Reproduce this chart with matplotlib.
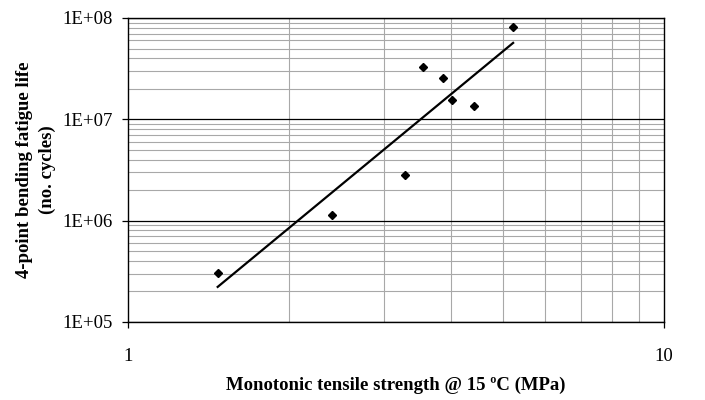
import numpy as np
import matplotlib
matplotlib.use("Agg")
import matplotlib.pyplot as plt
from matplotlib.ticker import FixedLocator, NullFormatter

### data ###
strength = [1.47, 2.40, 3.29, 3.55, 3.87, 4.02, 4.42, 5.23]           # MPa
fatigue_life = [3.04e5, 1.15e6, 2.84e6, 3.26e7, 2.56e7, 1.54e7, 1.35e7, 8.09e7]
x_ticks = [1, 10]
y_ticks = [1e5, 1e6, 1e7, 1e8]
y_ticklabels = ["1E+05", "1E+06", "1E+07", "1E+08"]

plt.rcParams['font.family'] = ['Liberation Serif', 'DejaVu Serif']

fig = plt.figure(figsize=(7.05, 4.0), dpi=100)
ax = fig.add_axes([128/705, 1 - 322/400, (664-128)/705, (322-18)/400])

# power trendline (least squares in log-log space, like excel)
b, a = np.polyfit(np.log10(strength), np.log10(fatigue_life), 1)
xt = np.array([min(strength), max(strength)])
xs = np.logspace(np.log10(xt[0]), np.log10(xt[1]), 50)
ax.plot(xs, 10**a * xs**b, color='black', lw=1.6, zorder=3)

ax.plot(strength, fatigue_life, 'D', color='black', ms=4.5, zorder=4)

ax.set_xscale('log')
ax.set_yscale('log')
ax.set_xlim(1, 10)
ax.set_ylim(1e5, 1e8)

ax.xaxis.set_major_locator(FixedLocator(x_ticks))
ax.set_xticklabels([str(v) for v in x_ticks])
ax.xaxis.set_minor_locator(FixedLocator(np.arange(2, 10)))
ax.xaxis.set_minor_formatter(NullFormatter())
ax.yaxis.set_major_locator(FixedLocator(y_ticks))
ax.set_yticklabels(y_ticklabels)
yminor = [m * 10**e for e in range(5, 8) for m in range(2, 10)]
ax.yaxis.set_minor_locator(FixedLocator(yminor))
ax.yaxis.set_minor_formatter(NullFormatter())

# grid
ax.grid(which='minor', axis='both', color='#a8a8a8', lw=0.8)
ax.grid(which='major', axis='y', color='black', lw=0.9)
ax.set_axisbelow(True)

ax.tick_params(which='major', direction='out', length=4.3, width=0.9, labelsize=13.5)
ax.tick_params(which='minor', length=0)
ax.tick_params(axis='x', pad=14.5)
ax.tick_params(axis='y', pad=6.5)
for s in ax.spines.values():
    s.set_linewidth(1.0)

ax.set_xlabel("Monotonic tensile strength @ 15 ºC (MPa)", fontsize=13.5, fontweight='bold', labelpad=8)
ax.set_ylabel("4-point bending fatigue life\n(no. cycles)", fontsize=13.5, fontweight='bold',
              labelpad=5, linespacing=1.4)

fig.savefig("out.png", dpi=100)
